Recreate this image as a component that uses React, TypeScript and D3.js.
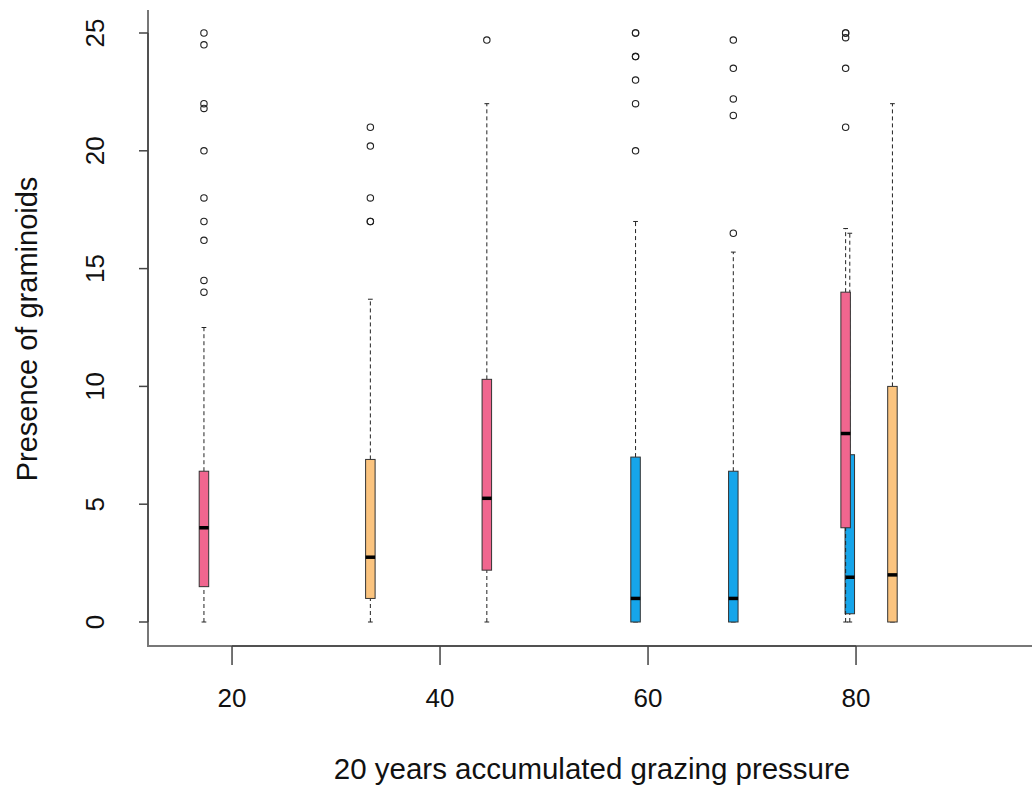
import * as d3 from "d3";
import { useEffect, useRef } from "react";

// grazing pressure position of each box (blue at ~79 drawn under the pink one)
const positions = [17.3, 33.3, 44.5, 58.8, 68.2, 79.4, 79.0, 83.5];
const groupType = ["pink", "orange", "pink", "blue", "blue", "blue", "pink", "orange"];
const whiskerLo = [0, 0, 0, 0, 0, 0, 0, 0];
const q1 = [1.5, 1.0, 2.2, 0, 0, 0.35, 4.0, 0];
const medians = [4.0, 2.75, 5.25, 1.0, 1.0, 1.9, 8.0, 2.0];
const q3 = [6.4, 6.9, 10.3, 7.0, 6.4, 7.1, 14.0, 10.0];
const whiskerHi = [12.5, 13.7, 22.0, 17.0, 15.7, 16.5, 16.7, 22.0];
const outliers = [
  [14, 14.5, 16.2, 17, 18, 20, 21.8, 22, 24.5, 25],
  [17, 17, 18, 20.2, 21],
  [24.7],
  [20, 22, 23, 24, 24, 25, 25],
  [16.5, 21.5, 22.2, 23.5, 24.7],
  [],
  [21, 23.5, 24.8, 25, 25],
  [],
];
const xTicks = [20, 40, 60, 80];
const yTicks = [0, 5, 10, 15, 20, 25];

const fills = { pink: "#F0668F", orange: "#FBC47F", blue: "#16A5EA" };

const BoxChart = () => {
  const ref = useRef(null);
  const width = 1032;
  const height = 789;
  const margin = { top: 10, bottom: 143, left: 148, right: 0 };

  useEffect(() => {
    const svg = d3.select(ref.current);
    svg.selectAll("*").remove();

    const x = d3.scaleLinear().domain([11.92, 96.92]).range([margin.left, width]);
    const y = d3.scaleLinear().domain([0, 25]).range([622, 33]);
    const font = "'Liberation Sans', Arial, sans-serif";
    const axisCol = "#444";
    const bottomY = height - margin.bottom;

    // frame (left + bottom)
    svg.append("path")
      .attr("d", `M${margin.left},${margin.top}V${bottomY}H${width}`)
      .attr("fill", "none")
      .attr("stroke", "#777")
      .attr("stroke-width", 2);

    // y axis
    const gy = svg.append("g").attr("transform", `translate(${margin.left},0)`);
    gy.append("line")
      .attr("y1", y(0)).attr("y2", y(25))
      .attr("stroke", axisCol).attr("stroke-width", 1.5);
    yTicks.forEach(t => {
      gy.append("line")
        .attr("x1", -9).attr("x2", 0)
        .attr("y1", y(t)).attr("y2", y(t))
        .attr("stroke", axisCol).attr("stroke-width", 1.5);
      gy.append("text")
        .attr("transform", `translate(-53,${y(t)}) rotate(-90)`)
        .attr("text-anchor", "middle")
        .attr("dy", "0.35em")
        .style("font-family", font)
        .style("font-size", "26px")
        .attr("fill", "#111")
        .text(t);
    });

    // x axis
    const gx = svg.append("g").attr("transform", `translate(0,${bottomY})`);
    gx.append("line")
      .attr("x1", x(20)).attr("x2", x(80))
      .attr("stroke", axisCol).attr("stroke-width", 1.5);
    xTicks.forEach(t => {
      gx.append("line")
        .attr("x1", x(t)).attr("x2", x(t))
        .attr("y1", 0).attr("y2", 19)
        .attr("stroke", axisCol).attr("stroke-width", 1.5);
      gx.append("text")
        .attr("x", x(t)).attr("y", 61)
        .attr("text-anchor", "middle")
        .style("font-family", font)
        .style("font-size", "26px")
        .attr("fill", "#111")
        .text(t);
    });

    // titles
    svg.append("text")
      .attr("x", 592).attr("y", 779)
      .attr("text-anchor", "middle")
      .style("font-family", font)
      .style("font-size", "29.5px")
      .attr("fill", "#111")
      .text("20 years accumulated grazing pressure");
    svg.append("text")
      .attr("transform", `translate(37,329) rotate(-90)`)
      .attr("text-anchor", "middle")
      .style("font-family", font)
      .style("font-size", "29px")
      .attr("fill", "#111")
      .text("Presence of graminoids");

    // boxes
    const bw = 9.5;
    positions.forEach((p, i) => {
      const cx = x(p);
      const g = svg.append("g");
      // whiskers
      [[whiskerLo[i], q1[i]], [q3[i], whiskerHi[i]]].forEach(([a, b]) => {
        if (a === b) return;
        g.append("line")
          .attr("x1", cx).attr("x2", cx)
          .attr("y1", y(a)).attr("y2", y(b))
          .attr("stroke", "#222").attr("stroke-width", 1)
          .attr("stroke-dasharray", "4,3");
      });
      [whiskerLo[i], whiskerHi[i]].forEach(v => {
        g.append("line")
          .attr("x1", cx - bw / 4).attr("x2", cx + bw / 4)
          .attr("y1", y(v)).attr("y2", y(v))
          .attr("stroke", "#222").attr("stroke-width", 1);
      });
      g.append("rect")
        .attr("x", cx - bw / 2).attr("width", bw)
        .attr("y", y(q3[i])).attr("height", y(q1[i]) - y(q3[i]))
        .attr("fill", fills[groupType[i]])
        .attr("stroke", "#333").attr("stroke-width", 1);
      g.append("line")
        .attr("x1", cx - bw / 2).attr("x2", cx + bw / 2)
        .attr("y1", y(medians[i])).attr("y2", y(medians[i]))
        .attr("stroke", "#000").attr("stroke-width", 3.5);
      outliers[i].forEach(v => {
        g.append("circle")
          .attr("cx", cx).attr("cy", y(v)).attr("r", 3.2)
          .attr("fill", "none")
          .attr("stroke", "#222").attr("stroke-width", 1.1);
      });
    });
  }, []);

  return <svg ref={ref} width={width} height={height} style={{ display: "block" }}></svg>;
};

export default function App() {
  return (
    <div style={{ position: "absolute", left: 0, top: 0 }}>
      <BoxChart />
    </div>
  );
}
